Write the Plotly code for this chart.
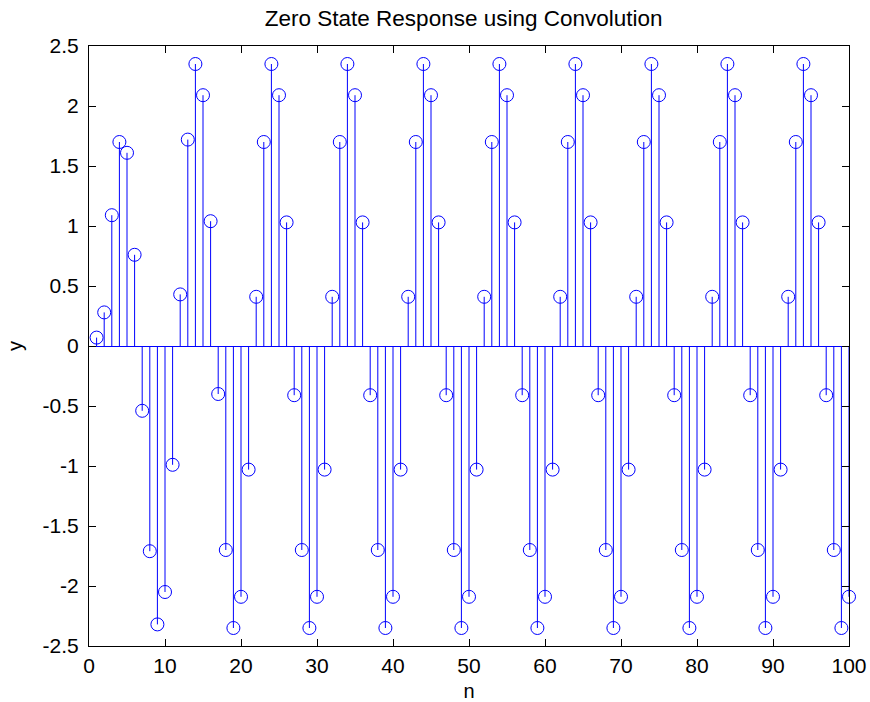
import plotly.graph_objects as go

# sample index
n = list(range(1, 101))

# zero state response values
y = [
    0.07, 0.28, 1.09, 1.70, 1.61, 0.76, -0.54, -1.71, -2.32, -2.05,
    -0.99, 0.43, 1.72, 2.35, 2.09, 1.04, -0.40, -1.70, -2.35, -2.09,
    -1.03, 0.41, 1.70, 2.35, 2.09, 1.03, -0.41, -1.70, -2.35, -2.09,
    -1.03, 0.41, 1.70, 2.35, 2.09, 1.03, -0.41, -1.70, -2.35, -2.09,
    -1.03, 0.41, 1.70, 2.35, 2.09, 1.03, -0.41, -1.70, -2.35, -2.09,
    -1.03, 0.41, 1.70, 2.35, 2.09, 1.03, -0.41, -1.70, -2.35, -2.09,
    -1.03, 0.41, 1.70, 2.35, 2.09, 1.03, -0.41, -1.70, -2.35, -2.09,
    -1.03, 0.41, 1.70, 2.35, 2.09, 1.03, -0.41, -1.70, -2.35, -2.09,
    -1.03, 0.41, 1.70, 2.35, 2.09, 1.03, -0.41, -1.70, -2.35, -2.09,
    -1.03, 0.41, 1.70, 2.35, 2.09, 1.03, -0.41, -1.70, -2.35, -2.09,
]

x_ticks = [0, 10, 20, 30, 40, 50, 60, 70, 80, 90, 100]
y_ticks = [-2.5, -2, -1.5, -1, -0.5, 0, 0.5, 1, 1.5, 2, 2.5]
y_tick_text = ["-2.5", "-2", "-1.5", "-1", "-0.5", "0", "0.5", "1", "1.5", "2", "2.5"]

BLUE = "#0000FF"
FONT = "Liberation Sans, Arial, sans-serif"

# stems built from the data
sx, sy = [], []
for xi, yi in zip(n, y):
    sx += [xi, xi, None]
    sy += [0, yi, None]

fig = go.Figure()
fig.add_trace(go.Scatter(x=sx, y=sy, mode="lines",
                         line=dict(color=BLUE, width=1),
                         hoverinfo="skip", showlegend=False))
fig.add_trace(go.Scatter(x=n, y=y, mode="markers",
                         marker=dict(symbol="circle-open", size=13,
                                     color=BLUE, line=dict(color=BLUE, width=1)),
                         cliponaxis=False, showlegend=False))

W, H = 870, 702
fig.update_layout(
    width=W, height=H,
    margin=dict(l=89, r=W - 849, t=46, b=H - 646, autoexpand=False),
    paper_bgcolor="white", plot_bgcolor="white",
    font=dict(family=FONT, size=21, color="black"),
    title=dict(text="Zero State Response using Convolution",
               x=0.493, xref="paper", xanchor="center", y=1 - 18 / H,
               yanchor="middle", yref="container", font=dict(size=22.5),
               automargin=False),
    xaxis=dict(range=[0, 100], tickvals=x_ticks, ticks="inside", ticklen=7,
               tickcolor="black", showline=True, linecolor="black", linewidth=1,
               mirror="ticks", showgrid=False, zeroline=False, automargin=False,
               ticklabelstandoff=1,
               title=dict(text="n", standoff=10, font=dict(size=20))),
    yaxis=dict(range=[-2.5, 2.5], tickvals=y_ticks, ticktext=y_tick_text,
               ticks="inside", ticklen=7, tickcolor="black", showline=True,
               linecolor="black", linewidth=1, mirror="ticks", showgrid=False,
               zeroline=True, zerolinecolor=BLUE, zerolinewidth=1,
               automargin=False, ticklabelstandoff=5,
               title=dict(text="y", standoff=14, font=dict(size=20))),
)

fig.write_html("out.html", config={"displayModeBar": False},
               post_script="document.body.style.margin='0';document.body.style.overflow='hidden';")
